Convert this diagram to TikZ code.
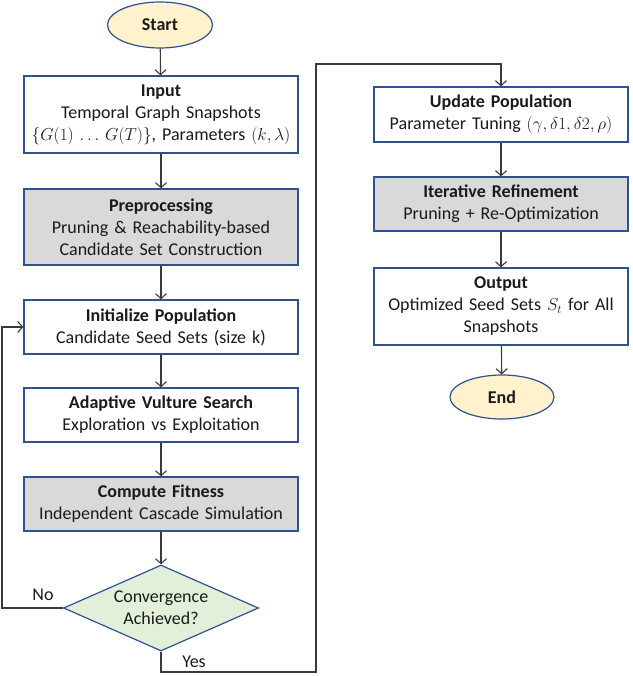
\documentclass[tikz,border=0pt]{standalone}
\usepackage{fontspec}
\setmainfont{Carlito}
\usetikzlibrary{shapes.geometric,arrows.meta}
\definecolor{bord}{HTML}{2F5190}
\definecolor{greyfill}{HTML}{D9D9D9}
\definecolor{yel}{HTML}{FFF2CC}
\definecolor{grn}{HTML}{E2F0D9}
\definecolor{arrc}{HTML}{3A3A3A}
\definecolor{txt}{HTML}{1A1A1A}
\tikzset{
  fbox/.style={draw=bord, line width=1.2pt, fill=white, inner sep=0pt, align=center, text=txt,
    font=\fontsize{18}{22}\selectfont},
  lbox/.style={fbox, minimum width=274pt, text width=270pt},
  rbox/.style={fbox, minimum width=254pt, text width=250pt},
  gfill/.style={fill=greyfill},
  term/.style={ellipse, draw=bord, line width=1.2pt, fill=yel, inner sep=0pt, text=txt,
    font=\fontsize{18}{22}\selectfont\bfseries},
  dec/.style={diamond, aspect=2.27, draw=bord, line width=1.2pt, fill=grn, inner sep=0pt,
    minimum width=195pt, minimum height=86pt, align=center, text=txt,
    font=\fontsize{18}{22}\selectfont},
  arr/.style={draw=arrc, line width=1.1pt, -{Straight Barb[length=5pt,width=11pt]}},
  lbl/.style={text=txt, font=\fontsize{18}{22}\selectfont, inner sep=0pt}
}
\begin{document}
\begin{tikzpicture}[x=1pt,y=-1pt]
\useasboundingbox (0,0) rectangle (632,676);
% left column
\node[term, minimum width=105pt, minimum height=46pt] (start) at (160,25) {Start};
\node[lbox, minimum height=77pt] (input) at (161,114.5) {\textbf{Input}\\Temporal Graph Snapshots\\$\{G(1)\,\ldots\,G(T)\}$, Parameters $(k,\lambda)$};
\node[lbox, gfill, minimum height=76pt] (prep) at (161,227) {\textbf{Preprocessing}\\Pruning \& Reachability-based\\Candidate Set Construction};
\node[lbox, minimum height=54pt] (init) at (161,327) {\textbf{Initialize Population}\\Candidate Seed Sets (size k)};
\node[lbox, minimum height=54pt] (adapt) at (161,415) {\textbf{Adaptive Vulture Search}\\Exploration vs Exploitation};
\node[lbox, gfill, minimum height=54pt] (fit) at (161,504) {\textbf{Compute Fitness}\\Independent Cascade Simulation};
\node[dec] (conv) at (161,608) {Convergence\\Achieved?};
% right column
\node[rbox, minimum height=55pt] (upd) at (501,114.5) {\textbf{Update Population}\\Parameter Tuning $(\gamma,\delta 1,\delta 2,\rho)$};
\node[rbox, gfill, minimum height=54pt] (refine) at (501,204) {\textbf{Iterative Refinement}\\Pruning + Re-Optimization};
\node[rbox, minimum height=77pt] (out) at (501,306.5) {\textbf{Output}\\Optimized Seed Sets $S_t$ for All\\Snapshots};
\node[term, minimum width=104pt, minimum height=44pt] (end) at (502,397) {End};
% labels
\node[lbl] (no) at (43,595) {No};
\node[lbl] (yes) at (194,662) {Yes};
% connectors
\coordinate (nl) at (2,608);
\coordinate (yb) at (316,672);
\coordinate (yt) at (316,64);
\draw[arr] (start) -- (input);
\draw[arr] (input) -- (prep);
\draw[arr] (prep) -- (init);
\draw[arr] (init) -- (adapt);
\draw[arr] (adapt) -- (fit);
\draw[arr] (fit) -- (conv);
\draw[arr] (conv.west) -- (nl) |- (init.west);
\draw[arr] (conv.south) |- (yb) -- (yt) -| (upd.north);
\draw[arr] (upd) -- (refine);
\draw[arr] (refine) -- (out);
\draw[arr] (out) -- (end);
\end{tikzpicture}
\end{document}
